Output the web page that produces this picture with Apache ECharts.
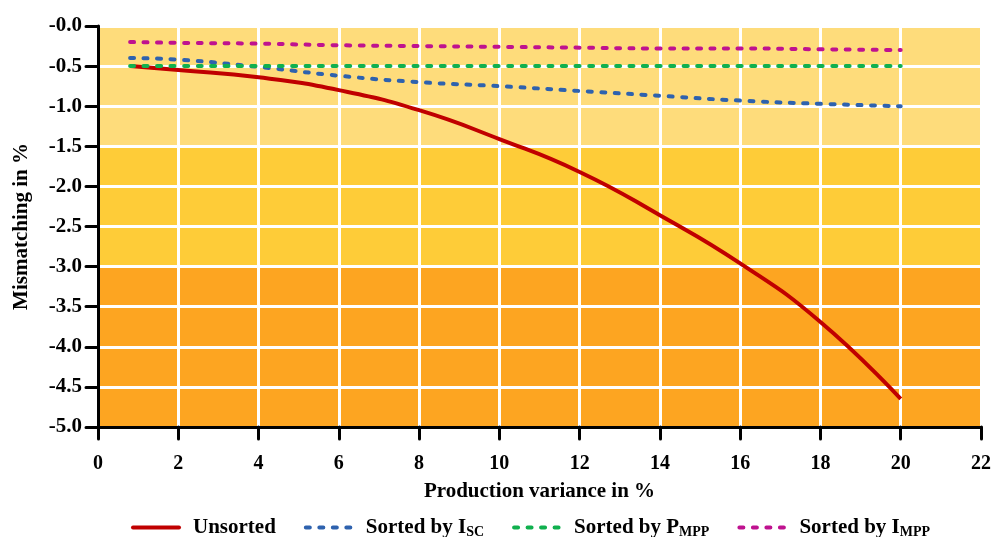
<!DOCTYPE html>
<html><head><meta charset="utf-8">
<script src="https://cdn.jsdelivr.net/npm/echarts@6/dist/echarts.min.js"></script>
<style>html,body{margin:0;padding:0;background:#fff}#c{width:994px;height:537px}</style>
</head><body><div id="c"></div>
<script>
const xValues = [0.8, 2, 4, 6, 8, 10, 12, 14, 16, 18, 20];
const unsorted = [-0.50, -0.55, -0.64, -0.80, -1.05, -1.41, -1.82, -2.36, -2.96, -3.69, -4.65];
const sortedIsc = [-0.40, -0.42, -0.51, -0.62, -0.70, -0.75, -0.81, -0.87, -0.93, -0.97, -1.00];
const sortedPmpp = [-0.50, -0.50, -0.50, -0.50, -0.50, -0.50, -0.50, -0.50, -0.50, -0.50, -0.50];
const sortedImpp = [-0.20, -0.21, -0.22, -0.24, -0.25, -0.26, -0.27, -0.28, -0.28, -0.29, -0.30];
const seriesNames = ['Unsorted', 'Sorted by I_SC', 'Sorted by P_MPP', 'Sorted by I_MPP'];
const bandColors = ['#FDA521','#FDA521','#FDA521','#FDA521','#FECC38','#FECC38','#FECC38','#FEDC7B','#FEDC7B','#FEDC7B'];

const font = 'Liberation Serif';
const pair = (ys) => xValues.map((x, i) => [x, ys[i]]);
const chart = echarts.init(document.getElementById('c'));
const dashed = [4, 9.5];
chart.setOption({
  animation: false,
  grid: {left: 98, right: 12, top: 26, bottom: 110},
  legend: {
    top: 512, left: 126, itemWidth: 46, itemHeight: 2, itemGap: 28,
    itemStyle: {opacity: 0},
    lineStyle: {width: 4, cap: 'round'},
    textStyle: {fontFamily: font, fontWeight: 'bold', fontSize: 21, color: '#000',
      rich: {
        m: {fontFamily: font, fontWeight: 'bold', fontSize: 21, color: '#000', padding: [0, 0, 0, 9]},
        s: {fontFamily: font, fontWeight: 'bold', fontSize: 14, color: '#000', padding: [10, 0, 0, 0]}
      }},
    formatter: function (n) {
      const p = n.split('_');
      return p.length > 1 ? '{m|' + p[0] + '}{s|' + p[1] + '}' : '{m|' + n + '}';
    },
    data: seriesNames
  },
  xAxis: {
    type: 'value', min: 0, max: 22, interval: 2,
    name: 'Production variance in %', nameLocation: 'middle', nameGap: 54,
    nameTextStyle: {fontFamily: font, fontWeight: 'bold', fontSize: 21, color: '#000'},
    axisLine: {onZero: false, lineStyle: {color: '#000', width: 3}},
    axisTick: {show: true, length: 12, lineStyle: {color: '#000', width: 3, cap: 'round'}},
    axisLabel: {fontFamily: font, fontWeight: 'bold', fontSize: 20, color: '#000', margin: 27},
    splitLine: {show: true, lineStyle: {color: '#fff', width: 3}}
  },
  yAxis: {
    type: 'value', min: -5, max: 0, interval: 0.5,
    name: 'Mismatching in %', nameLocation: 'middle', nameGap: 66,
    nameTextStyle: {fontFamily: font, fontWeight: 'bold', fontSize: 21, color: '#000'},
    axisLine: {show: true, onZero: false, lineStyle: {color: '#000', width: 3}},
    axisTick: {show: true, length: 12, lineStyle: {color: '#000', width: 3, cap: 'round'}},
    axisLabel: {fontFamily: font, fontWeight: 'bold', fontSize: 21, color: '#000', margin: 16,
      formatter: v => (v === 0 ? '-0.0' : v.toFixed(1))},
    splitArea: {show: true, areaStyle: {color: bandColors}},
    splitLine: {show: true, lineStyle: {color: '#fff', width: 3}}
  },
  series: [
    {name: seriesNames[0], type: 'line', smooth: true, symbol: 'none', data: pair(unsorted),
      lineStyle: {color: '#C00000', width: 4}, itemStyle: {color: '#C00000'}, z: 5},
    {name: seriesNames[1], type: 'line', smooth: true, symbol: 'none', data: pair(sortedIsc),
      lineStyle: {color: '#2E62AE', width: 4, type: dashed, cap: 'round'}, itemStyle: {color: '#2E62AE'}, z: 4},
    {name: seriesNames[2], type: 'line', smooth: true, symbol: 'none', data: pair(sortedPmpp),
      lineStyle: {color: '#10B04E', width: 4, type: dashed, cap: 'round'}, itemStyle: {color: '#10B04E'}, z: 6},
    {name: seriesNames[3], type: 'line', smooth: true, symbol: 'none', data: pair(sortedImpp),
      lineStyle: {color: '#BF128F', width: 4, type: dashed, cap: 'round'}, itemStyle: {color: '#BF128F'}, z: 4}
  ]
});
</script></body></html>
